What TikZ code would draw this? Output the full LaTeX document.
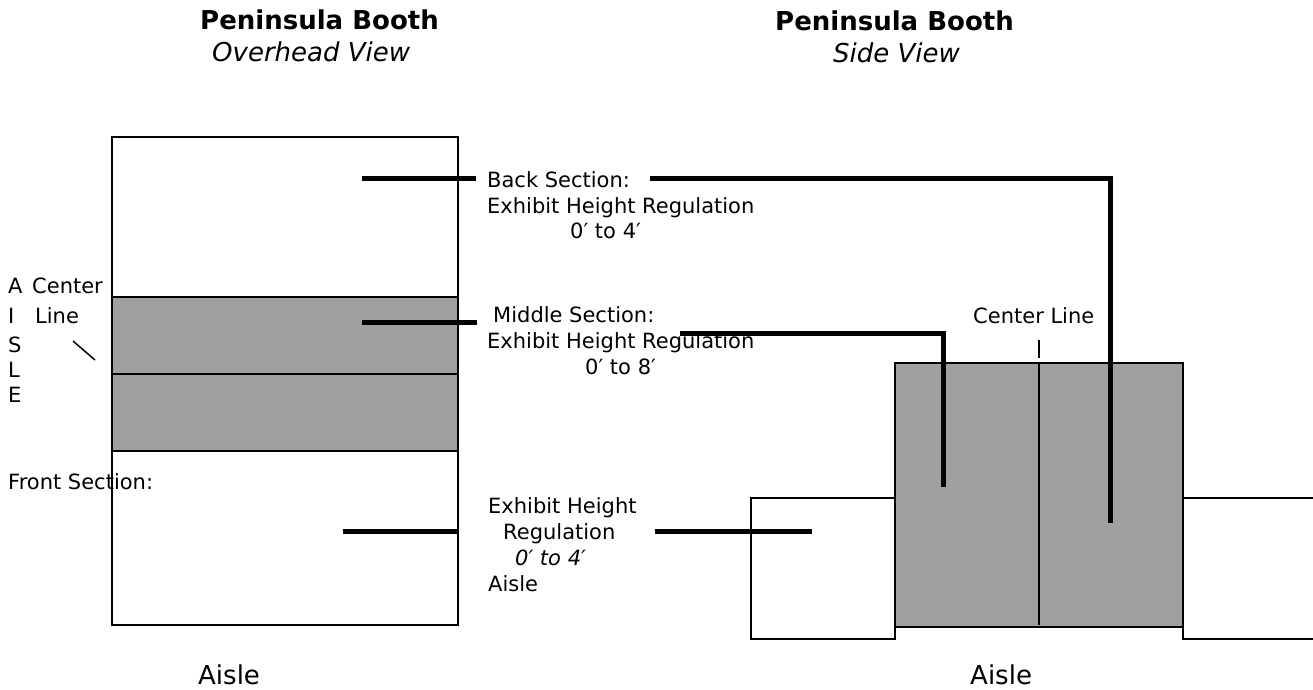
\documentclass[tikz,border=0pt]{standalone}
\usepackage{fontspec}
\setmainfont{DejaVu Sans}
\usepackage{tikz}
\usetikzlibrary{positioning}
\definecolor{boothgray}{RGB}{160,160,160}

\begin{document}
\begin{tikzpicture}[x=1pt, y=-1pt, font=\fontsize{21}{26}\selectfont,
	outline/.style={draw, line width=2.2pt},
	leader/.style={draw, line width=5pt},
	lbl/.style={anchor=base west, inner sep=0pt},
	ttl/.style={anchor=base west, inner sep=0pt, font=\fontsize{26}{30}\selectfont\bfseries},
	subttl/.style={anchor=base west, inner sep=0pt, font=\fontsize{26}{30}\selectfont\itshape}]
	\useasboundingbox (0,0) rectangle (1313,689);

	% titles
	\node[ttl] (ovtitle) at (200,29) {Peninsula Booth};
	\node[subttl] (ovsub) at (212,61) {Overhead View};
	\node[ttl] (sdtitle) at (775,30) {Peninsula Booth};
	\node[subttl] (sdsub) at (833,62) {Side View};

	% overhead view
	\fill[boothgray] (112,297) rectangle (458,451);
	\draw[outline] (112,137) rectangle (458,625);
	\draw[outline] (112,297) -- (458,297);
	\draw[outline] (112,374) -- (458,374);
	\draw[outline] (112,451) -- (458,451);

	% side view
	\fill[boothgray] (895,363) rectangle (1183,627);
	\draw[outline] (895,363) rectangle (1183,627);
	\draw[outline] (895,498) -- (751,498) -- (751,639) -- (895,639) -- (895,627);
	\draw[outline] (1313,498) -- (1183,498);
	\draw[outline] (1183,627) -- (1183,639) -- (1313,639);
	\coordinate (ctick) at (1039,340);
	\coordinate (ctop) at (1039,358);
	\coordinate (cbot) at (1039,625);
	\draw[line width=1.5pt] (ctick) -- (ctop);
	\draw[line width=2pt] (1039,363) -- (cbot);

	% labels
	\foreach \ch/\yb in {A/293, I/323, S/352, L/377, E/402}
		\node[lbl] (aisle\ch) at (8,\yb) {\ch};
	\node[lbl] (cline) at (32,293) {Center};
	\node[lbl] (cline2) at (35,323) {Line};
	\coordinate (cl1) at (73,341);
	\coordinate (cl2) at (95,360);
	\draw[line width=1.5pt] (cl1) -- (cl2);
	\node[lbl] (fronthead) at (8,489) {Front Section:};

	\node[lbl] (backhead) at (487,187) {Back Section:};
	\node[lbl] (backreg) at (487,213) {Exhibit Height Regulation};
	\node[lbl] (backrange) at (570,238) {0′ to 4′};

	\node[lbl] (midhead) at (493,322) {Middle Section:};
	\node[lbl] (midreg) at (487,348) {Exhibit Height Regulation};
	\node[lbl] (midrange) at (585,374) {0′ to 8′};

	\node[lbl] (frontreg) at (488,513) {Exhibit Height};
	\node[lbl] (frontreg2) at (503,539) {Regulation};
	\node[lbl, font=\fontsize{21}{26}\selectfont\itshape] (frontrange) at (515,565) {0′ to 4′};
	\node[lbl] (frontaisle) at (488,591) {Aisle};

	\node[lbl] (sdcenter) at (973,323) {Center Line};

	\node[lbl, font=\fontsize{26}{30}\selectfont] (ovaisle) at (198,684) {Aisle};
	\node[lbl, font=\fontsize{26}{30}\selectfont] (sdaisle) at (970,684) {Aisle};

	% leaders
	\coordinate (backin) at (362,178);
	\coordinate (backout) at (476,178);
	\coordinate (backfrom) at (650,178);
	\coordinate (backto) at (1110,523);
	\coordinate (midin) at (362,322);
	\coordinate (midout) at (477,322);
	\coordinate (midfrom) at (680,333);
	\coordinate (midto) at (943,487);
	\coordinate (frontin) at (343,531);
	\coordinate (frontout) at (458,531);
	\coordinate (frontfrom) at (655,531);
	\coordinate (frontto) at (812,531);
	\draw[leader] (backin) -- (backout);
	\draw[leader] (midin) -- (midout);
	\draw[leader] (frontin) -- (frontout);
	\draw[leader] (backfrom) -| (backto);
	\draw[leader] (midfrom) -| (midto);
	\draw[leader] (frontfrom) -- (frontto);
\end{tikzpicture}
\end{document}
